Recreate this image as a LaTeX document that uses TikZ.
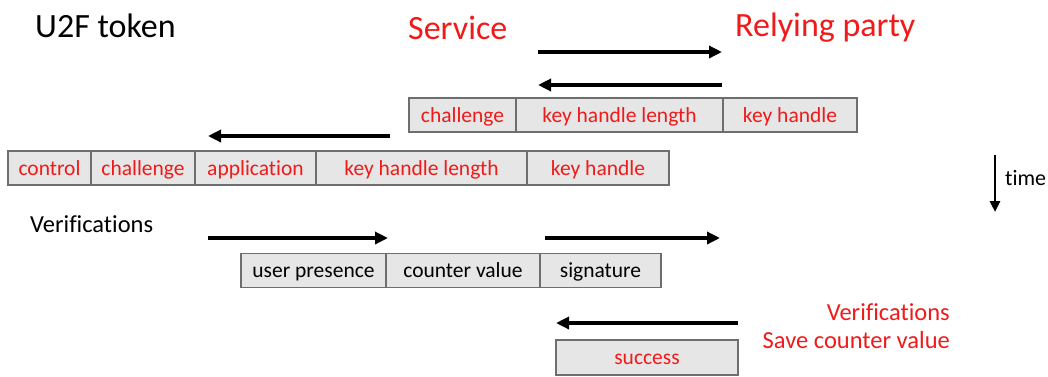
\documentclass[tikz,border=0pt]{standalone}
\usepackage{fontspec}
\setmainfont{Carlito}[Ligatures=NoCommon]
\usetikzlibrary{arrows.meta}
\definecolor{cellfill}{HTML}{E6E6E6}
\definecolor{celldraw}{HTML}{6E6E6E}
\definecolor{redtxt}{HTML}{F01A1A}
\begin{document}
\begin{tikzpicture}[x=1pt,y=-1pt,
  cell/.style={draw=celldraw,line width=1.2pt,fill=cellfill,minimum height=34pt,inner sep=0pt,text height=16pt,text depth=2pt,font=\fontsize{21.5}{24}\selectfont},
  redcell/.style={cell,text=redtxt},
  blkcell/.style={cell,text=black},
  msg/.style={line width=3.4pt,-{Triangle[length=13pt,width=12pt]}},
  title/.style={font=\fontsize{34}{38}\selectfont,inner sep=0pt},
  lbl/.style={font=\fontsize{24.5}{28}\selectfont,inner sep=0pt}]
\useasboundingbox (0,0) rectangle (1048,376);
% titles
\node[title,anchor=west] (u2f) at (35,26) {U2F token};
\node[title,anchor=west,text=redtxt] (svc) at (408,28) {Service};
\node[title,anchor=west,text=redtxt] (rp) at (735,28) {Relying party};
% arrows 1,2
\coordinate (a1s) at (538,52); \coordinate (a1e) at (722,52);
\draw[msg] (a1s) -- (a1e);
\coordinate (a2s) at (722,85); \coordinate (a2e) at (538,85);
\draw[msg] (a2s) -- (a2e);
% row 1
\node[redcell,minimum width=107pt] (r1a) at (462.5,115) {challenge};
\node[redcell,minimum width=207pt] (r1b) at (619.5,115) {key handle length};
\node[redcell,minimum width=134pt] (r1c) at (790,115) {key handle};
% arrow 3
\coordinate (a3s) at (390,136); \coordinate (a3e) at (208,136);
\draw[msg] (a3s) -- (a3e);
% row 2
\node[redcell,minimum width=83pt] (r2a) at (49.5,168) {control};
\node[redcell,minimum width=104pt] (r2b) at (143,168) {challenge};
\node[redcell,minimum width=121pt] (r2c) at (255.5,168) {application};
\node[redcell,minimum width=211pt] (r2d) at (421.5,168) {key handle length};
\node[redcell,minimum width=142pt] (r2e) at (598,168) {key handle};
% time
\coordinate (ts) at (995,155); \coordinate (te) at (995,212);
\draw[line width=2.6pt,-{Triangle[length=11pt,width=10pt]}] (ts) -- (te);
\node[font=\fontsize{22}{24}\selectfont,anchor=west,inner sep=0pt] (time) at (1005,178) {time};
% verifications
\node[lbl,anchor=west] (ver1) at (30,224) {Verifications};
\coordinate (a4s) at (208,238); \coordinate (a4e) at (388,238);
\draw[msg] (a4s) -- (a4e);
\coordinate (a5s) at (545,238); \coordinate (a5e) at (720,238);
\draw[msg] (a5s) -- (a5e);
% row 3
\node[blkcell,minimum width=145pt] (r3a) at (313.5,270.5) {user presence};
\node[blkcell,minimum width=154pt] (r3b) at (463,270.5) {counter value};
\node[blkcell,minimum width=121pt] (r3c) at (600.5,270.5) {signature};
% right verifications
\node[lbl,anchor=east,text=redtxt] (ver2) at (950,312) {Verifications};
\node[lbl,anchor=east,text=redtxt] (save) at (950,340) {Save counter value};
\coordinate (a6s) at (738,323); \coordinate (a6e) at (556,323);
\draw[msg] (a6s) -- (a6e);
\node[redcell,minimum width=182pt,minimum height=35pt] (succ) at (647,357.5) {success};
\end{tikzpicture}
\end{document}
